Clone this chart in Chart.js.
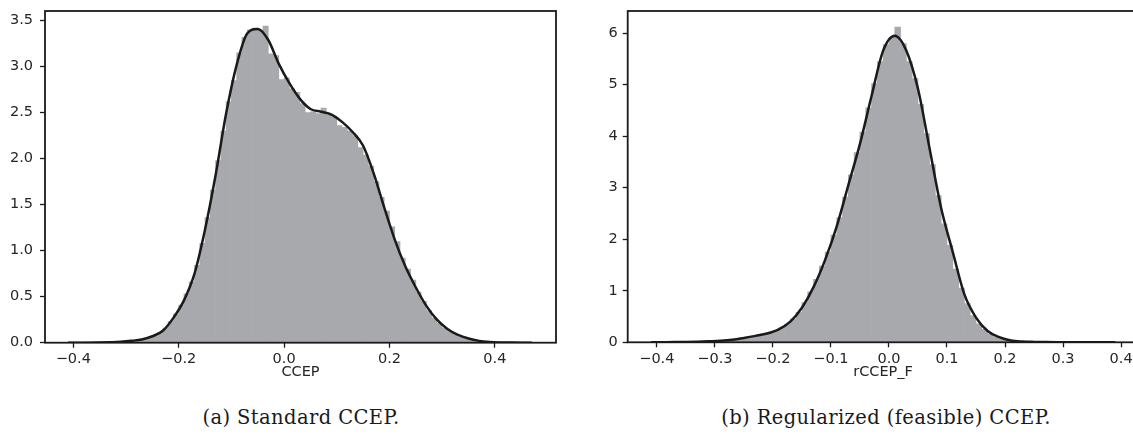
<!DOCTYPE html>
<html>
<head>
<meta charset="utf-8">
<script src="https://cdn.jsdelivr.net/npm/chart.js@4.4.1/dist/chart.umd.min.js"></script>
<style>
  html, body { margin: 0; padding: 0; background: #fff; overflow: hidden; }
  body { width: 1133px; height: 439px; position: relative; }
  canvas { position: absolute; top: 0; }
  .caption { position: absolute; top: 406px; font-family: "DejaVu Serif", serif; font-size: 19.5px;
             color: #1a1a1a; white-space: nowrap; transform: translateX(-50%); letter-spacing: 0.4px; }
</style>
</head>
<body>
<canvas id="chartA" width="570" height="381" style="left:0"></canvas>
<canvas id="chartB" width="570" height="381" style="left:580px"></canvas>
<div class="caption" style="left:301px">(a) Standard CCEP.</div>
<div class="caption" style="left:886px">(b) Regularized (feasible) CCEP.</div>
<script>
// (a) CCEP histogram: bins of 0.01 starting at centre -0.405
const binStartA = -0.405;
const binWidthA = 0.01;
const histA = [
  0.003, 0, 0, 0.002, 0.003, 0.002, 0.005, 0.004, 0.008, 0.01, 0.012,
  0.017, 0.022, 0.03, 0.042, 0.058, 0.08, 0.11, 0.16, 0.23, 0.31,
  0.41, 0.53, 0.66, 0.84, 1.08, 1.36, 1.66, 1.98, 2.3, 2.62,
  2.85, 3.15, 3.32, 3.40, 3.42, 3.40, 3.44, 3.14, 3.12, 2.86,
  2.88, 2.76, 2.72, 2.60, 2.50, 2.51, 2.49, 2.55, 2.47, 2.45,
  2.36, 2.34, 2.30, 2.25, 2.12, 2.04, 1.92, 1.75, 1.58, 1.43,
  1.26, 1.10, 0.92, 0.80, 0.68, 0.55, 0.45, 0.35, 0.27, 0.21,
  0.16, 0.12, 0.09, 0.065, 0.045, 0.03, 0.02, 0.014, 0.009, 0.006,
  0.004, 0.003, 0.002, 0.002, 0.001, 0.001, 0.001
];
// (a) KDE curve, sampled every 0.02 from -0.41
const kdeStartA = -0.41;
const kdeStepA = 0.02;
const kdeA = [
  0, 0, 0, 0.002, 0.005, 0.01, 0.02, 0.035, 0.07, 0.13,
  0.27, 0.46, 0.75, 1.23, 1.82, 2.49, 3.02, 3.36, 3.41, 3.29,
  3.03, 2.82, 2.65, 2.54, 2.51, 2.48, 2.40, 2.29, 2.14, 1.84,
  1.47, 1.12, 0.83, 0.60, 0.40, 0.25, 0.15, 0.085, 0.045, 0.02,
  0.008, 0.003, 0.001, 0, 0
];
const xTicksA = [-0.4, -0.2, 0, 0.2, 0.4];
const yTicksA = [0, 0.5, 1, 1.5, 2, 2.5, 3, 3.5];

// (b) rCCEP_F histogram
const binStartB = -0.405;
const binWidthB = 0.01;
const histB = [
  0.001, 0.002, 0.003, 0.004, 0.005, 0.006, 0.008, 0.011, 0.014, 0.018,
  0.023, 0.028, 0.035, 0.045, 0.056, 0.07, 0.09, 0.11, 0.13, 0.15,
  0.18, 0.22, 0.28, 0.35, 0.45, 0.58, 0.77, 0.98, 1.22, 1.48,
  1.75, 2.08, 2.42, 2.82, 3.25, 3.68, 4.08, 4.55, 5.02, 5.45,
  5.78, 5.92, 6.12, 5.80, 5.45, 5.12, 4.62, 4.05, 3.45, 2.85,
  2.30, 1.88, 1.42, 1.05, 0.75, 0.52, 0.36, 0.25, 0.16, 0.10,
  0.065, 0.04, 0.025, 0.016, 0.011, 0.008, 0.006, 0.005, 0.004, 0.003,
  0.003, 0.002, 0.002, 0.001, 0.001, 0.001, 0.001, 0.001, 0.001, 0.001
];
const kdeStartB = -0.41;
const kdeStepB = 0.02;
const kdeB = [
  0, 0.002, 0.004, 0.007, 0.012, 0.02, 0.03, 0.05, 0.085, 0.125,
  0.17, 0.25, 0.40, 0.67, 1.07, 1.60, 2.25, 3.05, 3.85, 4.78,
  5.66, 5.95, 5.66, 4.92, 3.76, 2.60, 1.75, 0.93, 0.48, 0.22,
  0.10, 0.035, 0.015, 0.008, 0.005, 0.003, 0.002, 0.001, 0.001, 0, 0
];
const xTicksB = [-0.4, -0.3, -0.2, -0.1, 0, 0.1, 0.2, 0.3, 0.4];
const yTicksB = [0, 1, 2, 3, 4, 5, 6];

const grid = (n, start, step) => Array.from({ length: n }, (_, i) => +(start + i * step).toFixed(4));
const signed = (v, d) => (v < 0 ? "\u2212" : "") + Math.abs(v).toFixed(d);

const tickFont = { family: "DejaVu Sans", size: 14.5 };
const ink = "#262626";

// matplotlib-style box round the plot area
const frame = {
  id: "frame",
  afterDatasetsDraw(chart) {
    const { ctx, chartArea: a } = chart;
    ctx.save();
    ctx.strokeStyle = "#1a1a1a";
    ctx.lineWidth = 1.8;
    ctx.strokeRect(a.left, a.top, a.right - a.left, a.bottom - a.top);
    ctx.restore();
  }
};

function histChart(id, o) {
  const binX = grid(o.hist.length, o.binStart, o.binWidth);
  const kdeX = grid(o.kde.length, o.kdeStart, o.kdeStep);
  const axisGrid = { display: true, drawOnChartArea: false, drawTicks: true, tickLength: 5,
                     tickWidth: 1.3, tickColor: "#1a1a1a", offset: false };
  return new Chart(document.getElementById(id), {
    data: {
      datasets: [
        {
          type: "line",
          data: kdeX.map((x, i) => ({ x, y: o.kde[i] })),
          borderColor: "#1a1a1a",
          borderWidth: 2.5,
          pointRadius: 0,
          cubicInterpolationMode: "monotone",
          fill: false,
          order: 0
        },
        {
          type: "bar",
          data: binX.map((x, i) => ({ x, y: o.hist[i] })),
          backgroundColor: "#a8a9ad",
          borderWidth: 0,
          barPercentage: 1,
          categoryPercentage: 1,
          grouped: false,
          order: 1
        }
      ]
    },
    options: {
      responsive: false,
      animation: false,
      events: [],
      layout: { padding: { top: 11, right: o.padRight, left: 0, bottom: 0 } },
      plugins: { legend: { display: false }, tooltip: { enabled: false } },
      scales: {
        x: {
          type: "linear",
          min: o.xMin,
          max: o.xMax,
          offset: false,
          afterBuildTicks: s => { s.ticks = o.xTicks.map(value => ({ value })); },
          afterFit: s => { s.height = o.xHeight; },
          grid: axisGrid,
          border: { display: false },
          ticks: { color: ink, font: tickFont, padding: 3, maxRotation: 0, autoSkip: false,
                   callback: v => signed(v, 1) },
          title: { display: true, text: o.xLabel, color: ink, font: tickFont, padding: { top: 4, bottom: 0 } }
        },
        y: {
          min: 0,
          max: o.yMax,
          afterBuildTicks: s => { s.ticks = o.yTicks.map(value => ({ value })); },
          afterFit: s => { s.width = o.yWidth; s.paddingTop = 0; s.paddingBottom = 0; },
          grid: axisGrid,
          border: { display: false },
          ticks: { color: ink, font: tickFont, padding: o.yPad, autoSkip: false,
                   callback: v => signed(v, o.yDigits) }
        }
      }
    },
    plugins: [frame]
  });
}

histChart("chartA", {
  hist: histA, binStart: binStartA, binWidth: binWidthA,
  kde: kdeA, kdeStart: kdeStartA, kdeStep: kdeStepA,
  xTicks: xTicksA, yTicks: yTicksA, xMin: -0.4537, xMax: 0.516, yMax: 3.605, yDigits: 1,
  xLabel: "CCEP", yWidth: 45, yPad: 7, padRight: 14, xHeight: 38.3
});

histChart("chartB", {
  hist: histB, binStart: binStartB, binWidth: binWidthB,
  kde: kdeB, kdeStart: kdeStartB, kdeStep: kdeStepB,
  xTicks: xTicksB, yTicks: yTicksB, xMin: -0.4502, xMax: 0.43, yMax: 6.43, yDigits: 0,
  xLabel: "rCCEP_F", yWidth: 47.7, yPad: 5, padRight: 11.5, xHeight: 38.7
});
</script>
</body>
</html>
